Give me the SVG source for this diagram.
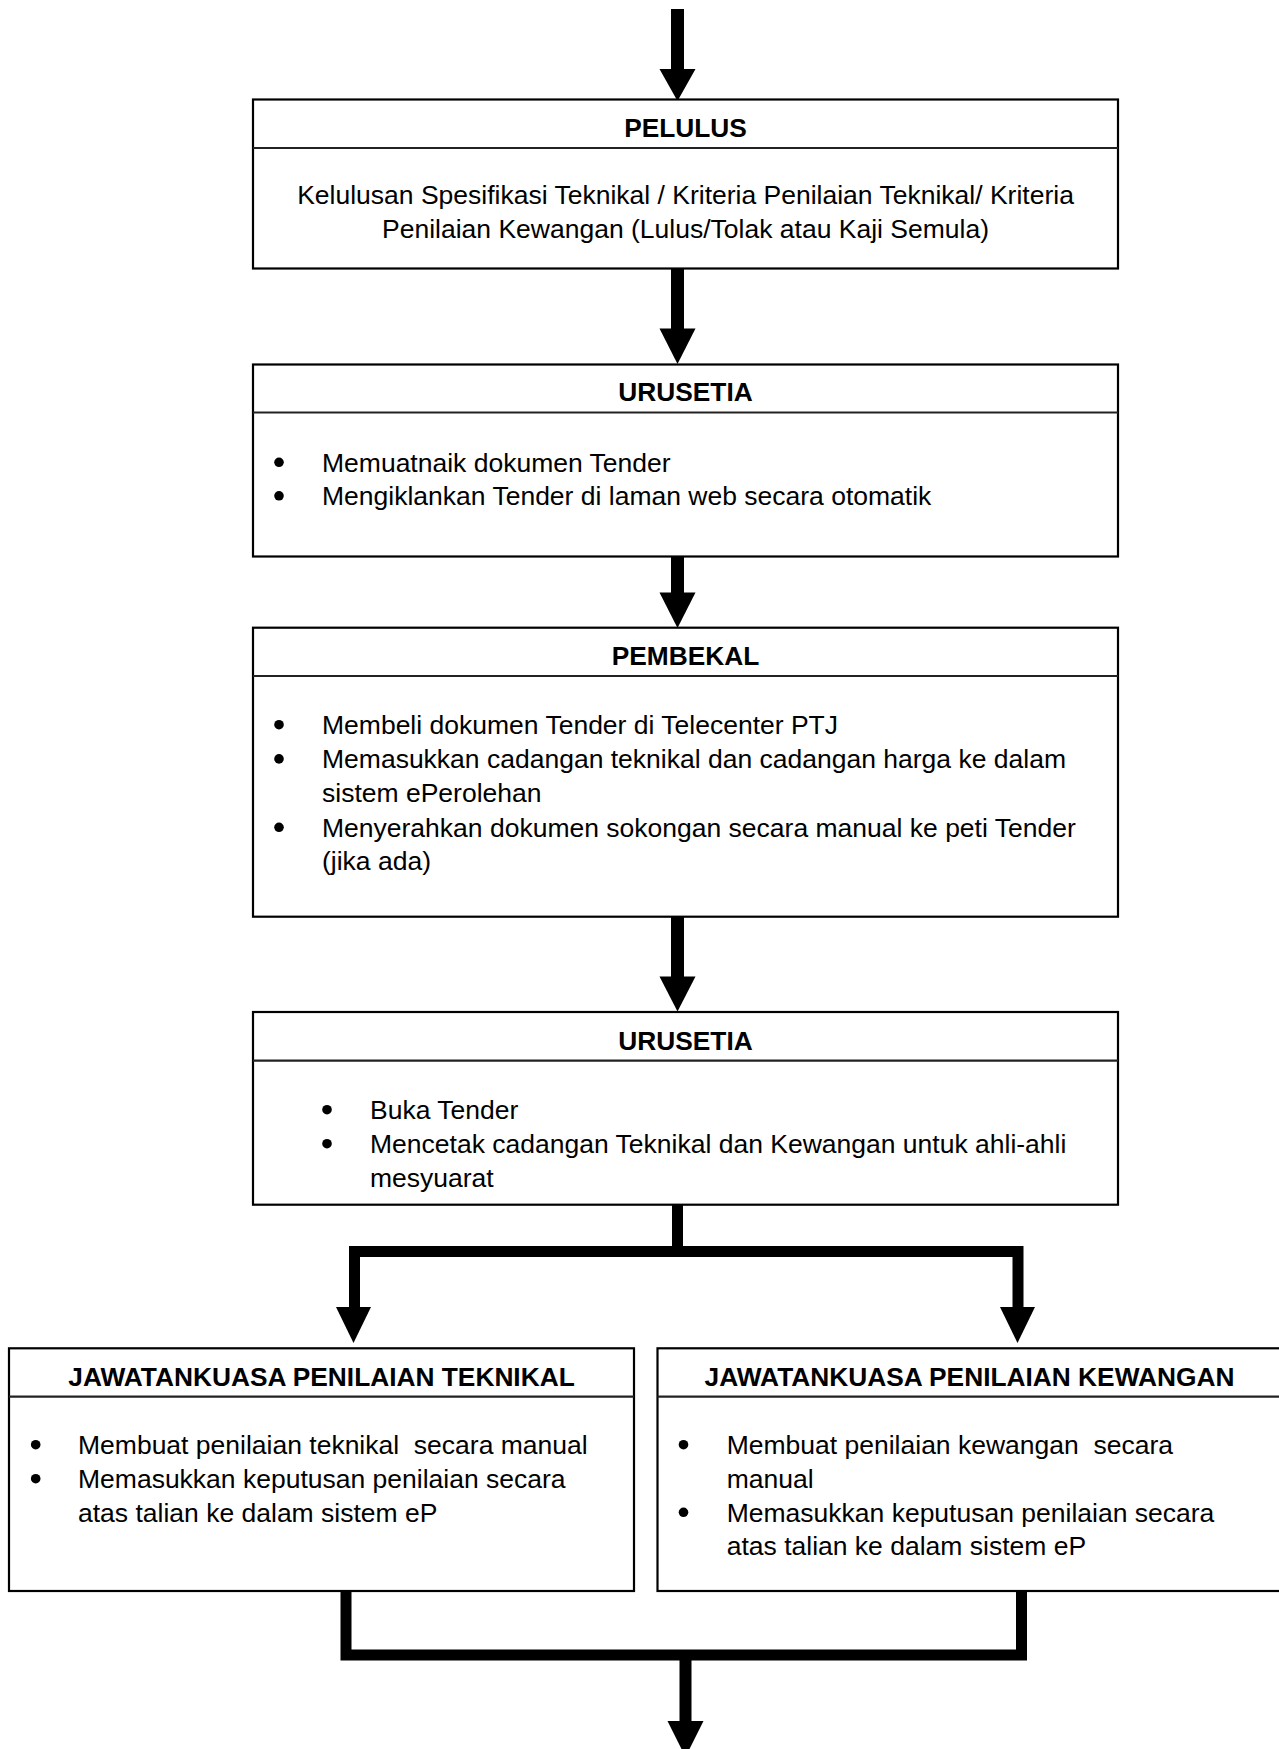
<svg xmlns="http://www.w3.org/2000/svg" width="1279" height="1749" viewBox="0 0 1279 1749">
<style>
.box{fill:#fff;stroke:#000;stroke-width:2.2}
.div{stroke:#222;stroke-width:2.2}
.t{font-family:"Liberation Sans",Arial,Helvetica,sans-serif;font-size:26.5px;fill:#000}
.h{font-family:"Liberation Sans",Arial,Helvetica,sans-serif;font-size:26.3px;font-weight:bold;fill:#000;text-anchor:middle}
.c{text-anchor:middle}
.b{fill:#000}
.shaft{fill:none;stroke:#000;stroke-width:13}
.wire{fill:none;stroke:#000;stroke-width:11;stroke-linejoin:miter}
.head{fill:#000}
</style>
<rect width="1279" height="1749" fill="#fff"/>

<g id="connectors">
  <line class="shaft" x1="677.5" y1="9" x2="677.5" y2="71"/>
  <polygon class="head" points="659.5,69 695.5,69 677.5,101"/>
  <line class="shaft" x1="677.5" y1="268" x2="677.5" y2="330"/>
  <polygon class="head" points="659.5,328.5 695.5,328.5 677.5,364"/>
  <line class="shaft" x1="677.5" y1="556" x2="677.5" y2="594"/>
  <polygon class="head" points="659.5,592.5 695.5,592.5 677.5,628"/>
  <line class="shaft" x1="677.5" y1="916" x2="677.5" y2="978"/>
  <polygon class="head" points="659.5,976.5 695.5,976.5 677.5,1011.5"/>
  <path class="wire" d="M677.5 1204 V1251.5"/>
  <path class="wire" d="M354.5 1309 V1251.5 H1018 V1309"/>
  <polygon class="head" points="336,1307 371,1307 353.5,1343"/>
  <polygon class="head" points="1000,1307 1035,1307 1017.5,1343"/>
  <path class="wire" d="M346 1590 V1655 H1021.5 V1590"/>
  <line class="shaft" x1="685.5" y1="1655" x2="685.5" y2="1723" style="stroke-width:12"/>
  <polygon class="head" points="667.5,1721 703.5,1721 685.5,1757"/>
</g>

<g id="pelulus">
  <rect class="box" x="253" y="99.5" width="865" height="169"/>
  <line class="div" x1="253" y1="148" x2="1118" y2="148"/>
  <text class="h" x="685.5" y="137.3">PELULUS</text>
  <text class="t c" x="685.5" y="204">Kelulusan Spesifikasi Teknikal / Kriteria Penilaian Teknikal/ Kriteria</text>
  <text class="t c" x="685.5" y="238">Penilaian Kewangan (Lulus/Tolak atau Kaji Semula)</text>
</g>

<g id="urusetia1">
  <rect class="box" x="253" y="364.5" width="865" height="192"/>
  <line class="div" x1="253" y1="412.5" x2="1118" y2="412.5"/>
  <text class="h" x="685.5" y="401">URUSETIA</text>
  <circle class="b" cx="279" cy="462.3" r="4.8"/>
  <text class="t" x="322" y="471.5">Memuatnaik dokumen Tender</text>
  <circle class="b" cx="279" cy="495.8" r="4.8"/>
  <text class="t" x="322" y="505">Mengiklankan Tender di laman web secara otomatik</text>
</g>

<g id="pembekal">
  <rect class="box" x="253" y="627.7" width="865" height="289"/>
  <line class="div" x1="253" y1="676" x2="1118" y2="676"/>
  <text class="h" x="685.5" y="665">PEMBEKAL</text>
  <circle class="b" cx="279" cy="724.7" r="4.8"/>
  <text class="t" x="322" y="734">Membeli dokumen Tender di Telecenter PTJ</text>
  <circle class="b" cx="279" cy="758.9" r="4.8"/>
  <text class="t" x="322" y="768.2">Memasukkan cadangan teknikal dan cadangan harga ke dalam</text>
  <text class="t" x="322" y="802.4">sistem ePerolehan</text>
  <circle class="b" cx="279" cy="827.3" r="4.8"/>
  <text class="t" x="322" y="836.6">Menyerahkan dokumen sokongan secara manual ke peti Tender</text>
  <text class="t" x="322" y="870">(jika ada)</text>
</g>

<g id="urusetia2">
  <rect class="box" x="253" y="1012" width="865" height="192.7"/>
  <line class="div" x1="253" y1="1060.7" x2="1118" y2="1060.7"/>
  <text class="h" x="685.5" y="1050">URUSETIA</text>
  <circle class="b" cx="327" cy="1109.7" r="4.8"/>
  <text class="t" x="370" y="1119">Buka Tender</text>
  <circle class="b" cx="327" cy="1143.7" r="4.8"/>
  <text class="t" x="370" y="1153">Mencetak cadangan Teknikal dan Kewangan untuk ahli-ahli</text>
  <text class="t" x="370" y="1187">mesyuarat</text>
</g>

<g id="jk-teknikal">
  <rect class="box" x="9" y="1348.3" width="625" height="242.7"/>
  <line class="div" x1="9" y1="1396.7" x2="634" y2="1396.7"/>
  <text class="h" x="321.5" y="1385.7">JAWATANKUASA PENILAIAN TEKNIKAL</text>
  <circle class="b" cx="35.7" cy="1444.7" r="4.8"/>
  <text class="t" x="78" y="1454" xml:space="preserve">Membuat penilaian teknikal  secara manual</text>
  <circle class="b" cx="35.7" cy="1478.7" r="4.8"/>
  <text class="t" x="78" y="1488">Memasukkan keputusan penilaian secara</text>
  <text class="t" x="78" y="1521.6">atas talian ke dalam sistem eP</text>
</g>

<g id="jk-kewangan">
  <rect class="box" x="657.5" y="1348.3" width="625" height="242.7"/>
  <line class="div" x1="657.5" y1="1396.7" x2="1282.5" y2="1396.7"/>
  <text class="h" x="969.5" y="1385.7">JAWATANKUASA PENILAIAN KEWANGAN</text>
  <circle class="b" cx="683.5" cy="1444.7" r="4.8"/>
  <text class="t" x="726.7" y="1454" xml:space="preserve">Membuat penilaian kewangan  secara</text>
  <text class="t" x="726.7" y="1487.6">manual</text>
  <circle class="b" cx="683.5" cy="1512.3" r="4.8"/>
  <text class="t" x="726.7" y="1521.6">Memasukkan keputusan penilaian secara</text>
  <text class="t" x="726.7" y="1555.2">atas talian ke dalam sistem eP</text>
</g>
</svg>
